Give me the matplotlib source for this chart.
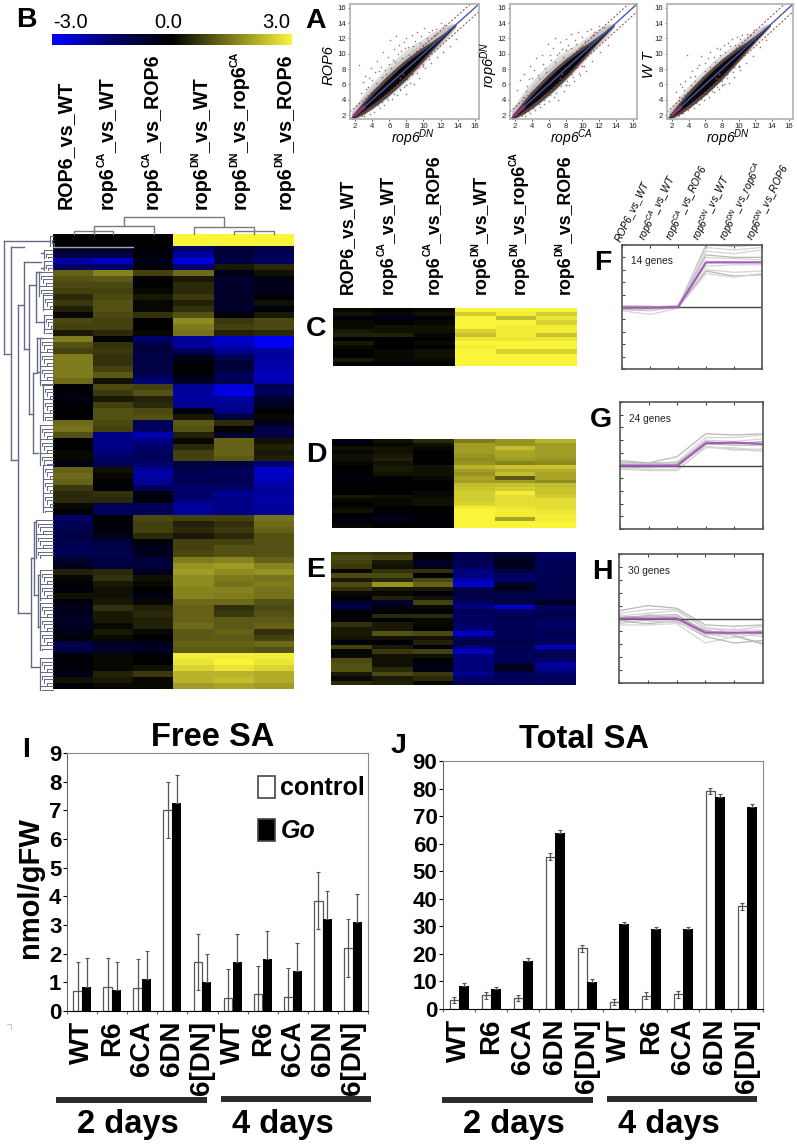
import numpy as np
import matplotlib
matplotlib.use('Agg')
from matplotlib import pyplot as plt
from matplotlib.colors import LinearSegmentedColormap
from matplotlib.patches import Rectangle

W, H = 797, 1147
plt.rcParams['font.family'] = ['Liberation Sans', 'DejaVu Sans']
plt.rcParams['mathtext.fontset'] = 'custom'
plt.rcParams['mathtext.rm'] = 'Liberation Sans'
plt.rcParams['mathtext.bf'] = 'Liberation Sans:bold'
plt.rcParams['mathtext.it'] = 'Liberation Sans:italic'

# ---- heatmap values (log2 ratio, -3..3), one row per line
b_rows = [
 [0,0,0,3,3,3],[0,0,0,3,3,3],[-.6,-.6,-.1,-1.6,-.8,-1.1],[-1,-1,-.2,-2,-.8,-1.2],[-2.1,-2.4,-.3,-2.7,-1,-1.4],
 [-1.4,-1.5,-.1,-1.6,.3,.5],[1.2,1.6,.8,1.3,-.3,.2],[1,1.1,0,.3,-.6,-.3],[.9,.9,0,.5,-.6,-.4],[.8,.8,.1,.5,-.6,-.4],
 [.5,.9,.3,.7,-.6,-.1],[.7,1,.1,.4,-.6,.2],[.4,1,.1,.6,-.6,-.2],[.1,.9,.6,1,-.2,.3],[.9,.8,0,1.7,.7,.9],
 [.8,.8,0,1.5,.8,.9],[.3,.5,.1,1.4,.4,.5],[1.5,0,-1.5,-2,-2.4,-2.9],[1,.6,-1,-2,-2.3,-2.8],[.8,.7,-.9,-1.3,-1.9,-2],
 [1.5,.6,-1,-.4,-1.2,-2],[1.5,.6,-1,-.1,-.8,-2.1],[1.5,.8,-.9,0,-.8,-2.2],[1.5,1.1,-1.1,-.2,-1.4,-2.3],[1.3,.2,-1.6,-.5,-1.1,-2.2],
 [0,.9,.8,-1.9,-2.6,-1.2],[-.1,.7,1,-2,-2.7,-1.3],[-.3,.3,.4,-2,-2,-.7],[0,.8,.5,-1.9,-1.9,-.5],[0,1,.9,-.3,-1.8,0],
 [0,1,1,.3,-.8,.1],[1.3,.9,-1.2,1.1,.5,-.4],[1.4,.8,-1.4,1,0,-1],[1,-1.8,-2.2,.4,-.6,-1],[0,-1.8,-1.8,.1,1.2,.2],
 [0,-1.8,-1.5,.5,1.2,.4],[.1,-1.6,-1.4,.8,1.2,.3],[.1,-1.4,-1.2,.8,1.1,.4],[-.3,-1.2,-1.5,-.9,-.9,-1.6],[1.2,.2,-2,-1.1,-1.2,-2.4],
 [1.3,.1,-2.1,-1.2,-1.2,-2.4],[1.2,0,-1.9,-1.2,-1.2,-2.2],[.7,-.1,-1.3,-1.5,-1.5,-2],[.5,.6,-.2,-1.5,-1.9,-2],[.5,.5,-.2,-1.6,-1.8,-2.1],
 [.1,-1.2,-1.2,-2,-1.8,-2],[0,-1.4,-1.3,-2,-1.8,-2],[-1.5,0,.9,.8,.8,1.4],[-1.2,-.1,.8,.4,.6,1.3],[-1.1,-.2,.8,.5,.7,1.2],
 [-1,-.3,.5,.3,.5,1],[-1.1,-.9,-.1,.8,.8,1],[-1.2,-1,-.4,.8,1,1],[-1.2,-1.1,-.4,.9,1,1],[-.6,-1,-.9,1.5,1.6,1.2],
 [-.4,-.9,-.9,1.8,1.9,1.6],[.4,.5,-.4,1.9,1.7,1.8],[.1,.6,.2,1.7,1.5,1.4],[-.1,.3,.1,1.7,1.4,1.5],[-.1,.2,0,1.6,1.6,1.4],
 [.2,.2,-.3,1.6,1.5,1.4],[-.2,.3,.1,1.3,1.3,1],[-.4,.6,.4,1.2,.6,.9],[-.4,.3,.5,1.2,.7,1],[-.5,.3,.4,1.2,1.1,1.1],
 [-.5,.1,.4,1.3,1.1,1.2],[-.3,.3,.1,1.1,1.2,.6],[-.2,.1,0,1.1,1.1,.8],[-1,-.5,-.4,1.2,1.2,1.3],[-1,-.7,-.5,1.1,1.1,1],
 [0,.1,0,2.9,2.9,2.9],[-.2,.1,0,2.8,3,2.8],[-.2,.1,.2,2.6,2.8,2.6],[-.3,.4,.7,2.2,2.2,2.1],[.2,.3,.1,2.2,2.3,2.1],
 [-.1,.1,.1,1.9,2,1.9]]

c_rows = [[.1,0,.1,3,3,3],[.2,.1,.2,2.5,2.9,2.5],[-.2,-.4,-.1,3,2.3,2.8],[.1,0,.1,3,3,2.6],[.1,.2,.2,3,2.9,2.9],
 [.3,.2,.2,2.6,2.9,2.9],[.4,.4,.1,2.4,2.9,2.4],[0,0,0,2.8,2.8,2.8],[.3,0,.1,3,3,3],[.1,0,-.1,2.9,3,3],
 [0,.1,.2,3,2.6,2.6],[0,.1,.2,3,3,3],[.3,.1,.1,3,3,3],[0,-.1,0,3,3,3]]

d_rows = [[-.3,.2,.5,1.5,1.8,2.2],[-.2,.1,.2,1.9,1.8,1.9],[.2,.2,.1,1.9,2.3,1.9],[.1,.2,0,1.9,2,1.9],[.2,.3,0,1.8,2,1.9],
 [.2,.4,0,1.7,1.9,1.8],[.1,.2,0,1.8,1.6,1.7],[0,.3,.2,2.2,2.4,2.4],[0,.3,.2,1.9,2.1,2.1],[0,.2,.2,1.8,2.3,2],
 [-.2,-.1,.1,2,1.1,2],[-.2,-.1,0,1.9,1.9,1.7],[0,0,0,2.3,2.4,2.3],[0,0,0,2.4,2.5,2.4],[0,0,.1,2.5,2.9,2.4],
 [.3,.2,.1,2.5,2.7,2.5],[.1,.1,.2,2.5,2.7,2.7],[0,.1,.2,2.6,2.7,2.7],[.1,0,0,2.9,2.8,2.7],[.2,0,0,3,2.9,2.8],
 [0,-.2,-.1,3,2.9,2.9],[-.3,-.4,-.1,3,2,2.9],[-.2,-.2,-.1,3,3,3],[.1,0,0,3,3,3]]

e_rows = [[.7,.6,-.2,-1.1,-1,-1.5],[.9,.8,-.2,-1.2,-.5,-1.3],[.8,.3,-.5,-1.2,-.4,-1.2],[.7,.2,-.4,-1.2,-.4,-1.2],[.1,.6,.6,-1.8,-1,-1.2],
 [.9,.9,0,-1.7,-1.4,-1.2],[.3,.5,.9,-2.2,-1.5,-1.1],[.9,1.8,1.2,-2.5,-.5,-1.2],[.6,.3,.3,-1,-.4,-1.1],[.1,.1,-.2,-1,-1,-1.1],
 [-.1,.4,.2,-1.1,-1,-1],[-.6,-.6,.8,-1.4,-.9,-.5],[-1,-.3,.1,-1.8,-2.5,-1.4],[-.2,0,0,-1.2,-1.4,-1.2],[-.1,.5,.5,-1.5,-1.2,-1.1],
 [0,0,.1,-1.3,-1.1,-1.2],[.6,.3,.1,-1.5,-1.2,-1.5],[.3,.3,0,-1.6,-1.2,-1.3],[.3,1,.9,-2.4,-1.2,-1.2],[.2,.2,.2,-1.4,-1.2,-1.3],
 [-.1,-.1,.4,-1,-1,-1.2],[.8,.3,-.2,-1.6,-1.2,-2.4],[.1,.7,.8,-2.4,-1.3,-1.3],[.1,.2,.2,-1.6,-1.2,-1.1],[.9,.2,-.1,-1.7,-1.3,-1.5],
 [1,.2,-.3,-1.6,-.5,-2.2],[1,.5,-.3,-1.7,-.5,-1.8],[.3,.9,.7,-1.9,-1.3,-1.5],[.1,.3,.5,-1.5,-1.3,-1.3],[.5,.4,.1,-1.2,-1.2,-1.3]]

# ---- cluster profiles
profile_x = [0, 1, 2, 3, 4, 5]
f_mean = [-.05, -.05, 0, 3.6, 3.6, 3.6]
f_lines = [[-.2,-.3,0,5,4.9,5],[0,-.3,.1,4.8,4.6,4.8],[-.3,-.6,-.1,4.5,4.3,4.6],[.1,0,.1,4.2,4,4],
           [-.1,-.2,.1,3.3,3.4,3.4],[0,0,0,3,2.8,2.9],[-.2,-.1,0,2.9,2.5,2.6],[.1,.1,-.1,2.7,2.4,2.7],[-.1,-.1,.1,4,3.9,3.8]]
g_mean = [0, 0, 0, 1.75, 1.8, 1.7]
g_lines = [[.4,.2,.7,2.5,2.4,2.5],[.3,.1,.3,2.2,2.2,2.4],[.1,0,.1,2,1.9,2.1],[0,-.1,-.1,1.7,1.6,1.6],
           [-.2,-.3,-.3,1.4,1.4,1.2],[-.1,-.2,.1,1.5,1.3,1.1],[.2,.2,.2,1.9,1.7,1.9],[-.3,-.4,-.4,1.5,1.2,1.3]]
h_mean = [0, 0, 0, -1.1, -1.1, -1.1]
h_lines = [[.6,1,.8,-.5,-.6,-.5],[.4,.7,.7,-.7,-.9,-.6],[.2,.4,.6,-.8,-.9,-.9],[-.1,.2,.3,-1,-1.1,-1],[-.4,-.1,0,-1.3,-1.2,-1.4],
           [-.5,-.5,-.4,-1.9,-1.4,-1.9],[-.2,-.4,-.2,-1.4,-1.9,-1.7],[.3,-.2,-.3,-1.2,-1.5,-1.1],[-.3,.3,.2,-1.1,-.8,-1.3],[.1,.2,.1,-.9,-1.3,-2]]

# ---- SA bars
groups = ['WT', 'R6', '6CA', '6DN', '6[DN]', 'WT', 'R6', '6CA', '6DN', '6[DN]']
free_ctrl = [.7, .85, .8, 7, 1.7, .45, .6, .5, 3.85, 2.2]
free_go = [.85, .75, 1.1, 7.25, 1, 1.7, 1.8, 1.4, 3.2, 3.1]
free_ctrl_err = [1, 1, 1, .98, .97, 1, .97, 1, 1, 1]
free_go_err = [1, .97, 1, 1, 1, 1, 1, .97, .97, .97]
total_ctrl = [3.3, 5, 4, 55.3, 22, 2.6, 4.8, 5.3, 79.2, 37.2]
total_go = [8.3, 7.1, 17.5, 64, 9.8, 31, 29, 29, 77, 73.3]
total_ctrl_err = [1.2, 1.3, 1.2, 1.2, 1.3, 1.2, 1.3, 1.3, 1.1, 1.2]
total_go_err = [1.1, 1, 1, .8, 1.1, .7, .6, .6, 1.1, 1]

# ---- scatter: hand read outlying points, the dense part is drawn as bands
band_x = [1.6, 3, 4, 5, 6, 7, 8, 9, 10, 11, 12, 13, 13.8]
a1_lo = [1.5, 2, 2.7, 3.5, 4.4, 5.3, 6.3, 7.4, 8.6, 9.8, 11, 12.3, 13.4]
a1_hi = [2.6, 4.8, 6.2, 7.4, 8.6, 9.6, 10.6, 11.3, 12, 12.8, 13.4, 13.9, 14]
a2_lo = [1.5, 2, 2.7, 3.5, 4.4, 5.3, 6.4, 7.5, 8.7, 9.9, 11.1, 12.3, 13.4]
a2_hi = [2.8, 5, 6.4, 7.6, 8.6, 9.6, 10.4, 11, 11.8, 12.6, 13.3, 13.9, 14]
a3_lo = [1.5, 2.1, 2.9, 3.8, 4.7, 5.6, 6.5, 7.6, 8.9, 10, 11.3, 12.5, 13.5]
a3_hi = [2.6, 4.6, 5.9, 7, 8.1, 9.1, 10, 10.8, 11.6, 12.4, 13.1, 13.8, 14]
core_half = [.15, .4, .6, .75, .85, .9, .85, .7, .5, .3, .18, .08, .04]
mid_half = [.3, .85, 1.15, 1.3, 1.4, 1.4, 1.35, 1.15, .95, .65, .42, .25, .1]

a1_px = [2.4,2.9,3.2,3.5,3.9,4.3,4.6,5,5.3,5.5,5.9,6.1,6.4,6.6,6.8,7.1,7.4,7.7,8,8.2,8.6,9,9.3,9.7,10.1,10.6,11,11.5,12,12.4,3,3.7,4.2,4.9,5.4,5.8,6.3,6.9,7.3,7.9,8.4,8.9,9.5,10.2,10.9,11.6,12.3,13.1,13.8,
         2.7,3.3,3.6,4,4.4,4.8,5.1,5.6,6,6.2,6.7,7,7.5,7.8,8.3,8.8,9.1,9.6,10,10.4,3.4,4,4.7,5.2,5.7,6.5,7.2,7.7,8.1,8.7,9.2,10,10.7]
a1_py = [8.5,6.3,7.1,5.6,8.1,7.6,9.1,8.3,10.2,7.9,9.6,11.8,9.2,10.6,12.3,11.2,10.4,11.5,12.1,10.9,12.5,11.7,12.9,12.3,13.4,12.9,13.1,13.2,14,13.7,1.9,2.1,2.4,2.9,3.3,3.9,4.1,4.6,5.3,4.8,6.2,6.1,6.9,8.2,8.8,9.6,10.2,11,11.9,
         4.9,5.4,6.8,6.6,6.2,7.7,7,7.3,8.7,8.2,8.9,10,9.4,10.7,9.8,11,10.3,11.4,11.2,12.1,2.5,2.9,3.3,3.7,4.2,4.7,5.4,5.7,6.7,7.3,7.5,8.6,9.3]
a2_px = [2.2,2.6,3.1,3.4,3.8,4.2,4.5,4.9,5.2,5.6,5.9,6.2,6.5,6.8,7,7.3,7.6,8,8.3,8.7,9.1,9.5,10,10.5,11,11.4,12,12.6,3.2,3.8,4.4,5,5.5,6,6.6,7.1,7.8,8.4,9,9.7,10.4,11.2,12.1,13,
         2.9,3.3,3.6,4,4.7,5.3,5.7,6.3,6.7,7.2,7.7,8.1,8.6,9.3,9.8,10.3,3.5,4.1,4.8,5.4,6.1,6.9,7.5,8.2,8.9,9.6,10.2]
a2_py = [5.3,6.6,7.4,5.8,8.4,7.9,9.4,6.8,9.9,8.2,11.3,9.8,10.8,12.1,9.9,11.5,10.6,11.9,11.1,12.6,11.8,12.9,12.2,13,13.2,12.9,13.6,13.5,1.9,2.2,2.7,3,3.5,3.8,4.3,3.9,5.2,5.9,6.4,7.2,7.8,9,10.2,11.2,
         4.4,5.1,6.7,6.9,7.2,8.6,7.6,9.2,8.9,10.1,9.6,10.5,10.7,11.3,10.9,11.7,2.5,2.9,3.4,3.9,4.6,4.9,5.8,6.4,7,7.5,8.4]
a3_px = [2.5,3,3.4,3.8,4.1,4.4,4.8,5.2,5.5,5.9,6.3,6.6,7,7.4,7.8,8.2,8.7,9.2,9.8,10.4,11,11.8,3.3,3.9,4.6,5.2,5.8,6.4,7,7.6,8.2,8.8,9.4,10.1,10.9,11.7,12.6,13.3,
         2.8,3.2,3.6,4.3,4.7,5,5.6,6,6.5,7.2,7.7,8.4,9,9.6,10.2,3.5,4.2,4.9,5.5,6.2,6.8,7.4,8,8.6,9.3,10]
a3_py = [5,6.1,5.3,9.8,7,7.8,6.4,8.5,9.7,7.7,9.4,10.2,9.6,10.8,10.6,11.2,11.4,11.9,12.2,12.5,12.6,13.1,2.3,2.6,2.9,3.4,3.9,4.4,5,5.4,6.1,6.2,7,7.9,8.8,9.7,10.9,11.8,
         4.4,5.6,6.5,5.9,7.1,8.1,7,8.8,8.3,8.9,9.9,10.2,11,11.1,11.9,2.7,3.1,3.6,4.1,4.8,5.2,5.7,6.5,6.9,7.6,8.3]
red_x = [2, 2.2, 2.4, 2.6, 2.8, 3, 7.3, 7.6, 9.4, 10, 11.3, 11.8, 12.4, 13, 8, 8.6]
red_y = [2, 2.2, 2.4, 2.6, 2.8, 3, 6.9, 7.4, 8.3, 8.4, 12.5, 11.9, 12.6, 13.2, 5.9, 7.4]

# ---- dendrograms of panel B, pixel outline: (x, top, bottom)
tree_trunks = [(4,241,354),(11,247,460),(18,305,613),(24,262,349),(29,285,414),(36,272,322),(33,373,453),
               (31,558,667),(34,522,595),(38,575,627),(37,338,372)]
tree_links = [(4,50,241),(4,11,354),(11,24,247),(11,18,460),(18,24,305),(18,31,613),(24,41,262),(24,29,349),
              (29,36,285),(29,33,414),(36,41,272),(36,44,322),(33,37,373),(33,38,453),(31,34,558),(31,40,667),
              (34,36,522),(34,38,595),(38,40,575),(38,40,627),(37,43,338),(37,40,372),(41,44,253),(41,44,268)]
tree_fans = [(50,236,246),(44,250,258),(44,261,270),(39,272,296),(43,295,310),(44,315,333),(40,338,385),(43,385,420),
             (40,425,465),(43,465,512),(36,520,558),(40,570,600),(40,603,650),(40,658,690)]
top_joins = [(74, 113, 231, 234), (94, 154, 226, 234), (124, 224, 217, 226), (194, 254, 227, 234), (234, 274, 231, 234)]

col_parts = [[('ROP6_vs_WT', 0)], [('rop6', 0), ('CA', 1), ('_vs_WT', 0)], [('rop6', 0), ('CA', 1), ('_vs_ROP6', 0)],
             [('rop6', 0), ('DN', 1), ('_vs_WT', 0)], [('rop6', 0), ('DN', 1), ('_vs_rop6', 0), ('CA', 1)],
             [('rop6', 0), ('DN', 1), ('_vs_ROP6', 0)]]


def px_axes(x0, y0, x1, y1):
    return fig.add_axes([x0 / W, 1 - y1 / H, (x1 - x0) / W, (y1 - y0) / H])


def heat(rows, x0, y0, x1, y1):
    ax = px_axes(x0, y0, x1, y1)
    ax.imshow(np.array(rows), cmap=byc, vmin=-3, vmax=3, aspect='auto', interpolation='nearest')
    ax.axis('off')
    return ax


def vlabel(xb, yb, parts, size):
    # rotated label built piece by piece so the superscripts stay small
    y = yb
    for txt, sup in parts:
        t = ov.text(xb - (size * .62 if sup else 0), y, txt, fontsize=size * .54 if sup else size, fontweight='bold',
                    rotation=90, rotation_mode='anchor', ha='left', va='baseline')
        y -= t.get_window_extent(rend).height - 1


def profile(x0, y0, x1, y1, lines, mean, txt):
    ax = px_axes(x0, y0, x1, y1)
    for i, l in enumerate(lines):
        ax.plot(profile_x, l, color='#d4d4d4' if i % 3 else '#b8b8b8', lw=.9)
    ax.axhline(0, color='#444444', lw=1)
    ax.plot(profile_x, mean, color='#a45cb8', lw=1.6)
    ax.set_xlim(0, 5)
    ax.set_ylim(-5, 5)
    ax.set_xticks(profile_x)
    ax.set_yticks(range(-5, 6))
    ax.tick_params(direction='in', length=2.5, width=.8, top=True, color='#444444', labelbottom=False, labelleft=False)
    for s in ax.spines.values():
        s.set_color('#555555')
        s.set_linewidth(1.2)
    ax.text(.065, .87, txt, transform=ax.transAxes, fontsize=7.3, va='center', color='#222222')
    return ax


def scatter_panel(x0, x1, px, py, lo, hi, xlab, ylab, ylab_x):
    ax = px_axes(x0, 4, x1, 119)
    bx = np.array(band_x)
    lo = np.array(lo)
    hi = np.array(hi)
    for frac in (1, .75):
        ax.fill_between(bx, bx + (lo - bx) * frac, bx + (hi - bx) * frac, color='#777777', alpha=.25, lw=0)
    ax.fill_between(bx, bx - np.array(mid_half), bx + np.array(mid_half), color='#2a2a2a', alpha=.8, lw=0)
    ax.fill_between(bx, bx - np.array(core_half), bx + np.array(core_half), color='#0a0a0a', lw=0)
    ax.scatter(px, py, s=1.3, color='#555555', alpha=.75, lw=0)
    ax.scatter(red_x, red_y, s=2, color='#b04040', lw=0, alpha=.8)
    ax.plot([2, 3], [2, 3], color='#b01c2c', lw=2.4)
    d = [1.4, 16.5]
    ax.plot(d, d, color='#4a55b0', lw=1)
    ax.plot(d, [d[0] + 1, d[1] + 1], color='#b03030', lw=.7, ls=(0, (2, 2)))
    ax.plot(d, [d[0] - 1, d[1] - 1], color='#b03030', lw=.7, ls=(0, (2, 2)))
    ax.set_xlim(1.4, 16.5)
    ax.set_ylim(1.48, 16.5)
    ax.set_xticks(range(2, 17, 2))
    ax.set_yticks(range(2, 17, 2))
    ax.tick_params(labelsize=5.6, length=1.5, width=.5, pad=1.2, colors='#222222')
    for s in ax.spines.values():
        s.set_color('#b0b0b0')
        s.set_linewidth(1.2)
    ov.text((x0 + x1) / 2 - 2, 138, xlab, fontsize=10, style='italic', ha='center', va='center')
    ov.text(ylab_x, 65, ylab, fontsize=10.5, style='italic', rotation=90, ha='center', va='center')


def sa_bars(x0, y0, x1, y1, ctrl, go, ctrl_err, go_err, ymax, step):
    ax = px_axes(x0, y0, x1, y1)
    pos = np.arange(len(groups))
    err_kw = dict(ecolor='#555555', elinewidth=.9, capsize=1.4, capthick=.8)
    ax.bar(pos - .15, ctrl, .29, color='white', edgecolor='#555555', linewidth=.9, yerr=ctrl_err, error_kw=err_kw)
    ax.bar(pos + .15, go, .3, color='black', yerr=[[0] * len(go), go_err], error_kw=err_kw)
    ax.set_xlim(-.5, 9.5)
    ax.set_ylim(0, ymax)
    ax.set_yticks(np.arange(0, ymax + 1, step))
    ax.set_xticks(pos)
    ax.set_xticklabels(groups, rotation=90, fontsize=20, fontweight='bold')
    ax.set_xticks(np.arange(-.5, 10, 1), minor=True)
    ax.tick_params(axis='x', which='major', length=0, pad=7)
    ax.tick_params(axis='x', which='minor', length=2.5, width=.8, color='#666666')
    ax.tick_params(axis='y', length=3, width=.8, pad=1)
    for lab in ax.get_yticklabels():
        lab.set_fontsize(16)
        lab.set_fontweight('bold')
    ax.spines['top'].set_color('#888888')
    ax.spines['right'].set_color('#888888')
    ax.spines['left'].set_color('#666666')
    return ax


byc = LinearSegmentedColormap.from_list('byc', [(0, '#0000ff'), (.25, '#000069'), (.5, '#000000'), (1, '#fbf53a')])
fig = plt.figure(figsize=(W / 100, H / 100), dpi=100)
rend = fig.canvas.get_renderer()

# overlay in pixel coordinates for the labels
ov = fig.add_axes([0, 0, 1, 1], zorder=5)
ov.set_xlim(0, W)
ov.set_ylim(H, 0)
ov.axis('off')
ov.patch.set_alpha(0)

# panel B
cbar = px_axes(52, 34, 292, 45)
cbar.imshow(np.linspace(-3, 3, 256).reshape(1, -1), cmap=byc, aspect='auto', vmin=-3, vmax=3)
cbar.axis('off')
for t, xp in zip(['-3.0', '0.0', '3.0'], [53, 154, 262]):
    ov.text(xp, 32, t, fontsize=14.5, va='bottom', ha='left')
heat(b_rows, 53, 234, 294, 689)
ov.plot([53, 133], [247, 247], color='#a5a58c', lw=1)

for parts, xb in zip(col_parts, [71, 113, 158, 207, 246, 291]):
    vlabel(xb, 209, parts, 14.2)
for parts, xb in zip(col_parts, [352, 393, 439, 486, 525, 570]):
    vlabel(xb, 294, parts, 12.8)

tree_c = '#656a85'
for x, a, b in tree_trunks:
    ov.plot([x, x], [a, b], color=tree_c, lw=1)
for a, b, y in tree_links:
    ov.plot([a, b], [y, y], color=tree_c, lw=1)
for x, a, b in tree_fans:
    ov.plot([x, x], [a, b], color=tree_c, lw=.9)
    for k, y in enumerate(np.arange(a, b + .1, 3.5)):
        xs = x + (k % 4) * 2.2
        ov.plot([xs, 53], [y, y], color=tree_c, lw=.7)
        ov.plot([xs, xs], [y, min(y + 3.5, b)], color=tree_c, lw=.7)
# top dendrogram: pairs of leaves joined at a height
for a, b, y, low in top_joins:
    ov.plot([a, a, b, b], [low, y, y, low], color='#7a7a7a', lw=1)

# panels C D E
heat(c_rows, 333, 308, 577, 366)
heat(d_rows, 332, 439, 576, 528)
heat(e_rows, 331, 552, 575, 685)

# panels F G H
profile(622, 245, 762, 369, f_lines, f_mean, '14 genes')
profile(620, 402, 763, 529, g_lines, g_mean, '24 genes')
profile(619, 554, 763, 683, h_lines, h_mean, '30 genes')
small_cols = ['ROP6_vs_WT', r'rop6$^{\mathit{CA}}$_vs_WT', r'rop6$^{\mathit{CA}}$_vs_ROP6',
              r'rop6$^{\mathit{DN}}$_vs_WT', r'rop6$^{\mathit{DN}}$_vs_rop6$^{\mathit{CA}}$', r'rop6$^{\mathit{DN}}$_vs_ROP6']
for t, xp in zip(small_cols, [622, 649, 676, 703, 730, 757]):
    ov.text(xp, 243, t, fontsize=7.4, style='italic', rotation=64, rotation_mode='anchor', ha='left', va='bottom')

# panel A
scatter_panel(350, 479, a1_px, a1_py, a1_lo, a1_hi, r'rop6$^{\mathit{DN}}$', 'ROP6', 329)
scatter_panel(510, 637, a2_px, a2_py, a2_lo, a2_hi, r'rop6$^{\mathit{CA}}$', r'rop6$^{\mathit{DN}}$', 489)
scatter_panel(667, 793, a3_px, a3_py, a3_lo, a3_hi, r'rop6$^{\mathit{DN}}$', 'W T', 649)

# panels I J
ax_i = sa_bars(67, 753, 368, 1011, free_ctrl, free_go, free_ctrl_err, free_go_err, 9, 1)
ax_j = sa_bars(443, 761, 763, 1009, total_ctrl, total_go, total_ctrl_err, total_go_err, 90, 10)
h1 = Rectangle((0, 0), 1, 1, facecolor='white', edgecolor='#444444', linewidth=1.2)
h2 = Rectangle((0, 0), 1, 1, facecolor='black', edgecolor='#444444', linewidth=1.2)
leg = ax_i.legend([h1, h2], ['control', 'Go'], loc='upper left', bbox_to_anchor=(.634, .911), frameon=False,
                  handlelength=.7, handleheight=.95, handletextpad=.2, labelspacing=.75, borderaxespad=0, borderpad=0,
                  prop={'weight': 'bold', 'size': 18})
leg.get_texts()[1].set_fontstyle('italic')

ov.text(213, 737, 'Free SA', fontsize=23.5, fontweight='bold', ha='center', va='center')
ov.text(584, 740, 'Total SA', fontsize=23.5, fontweight='bold', ha='center', va='center')
ov.text(30, 888, 'nmol/gFW', fontsize=21, fontweight='bold', rotation=90, ha='center', va='center')
for x0, x1, y in [(56, 207, 1100), (221, 371, 1099), (442, 593, 1100), (607, 757, 1099)]:
    ov.plot([x0, x1], [y, y], color='#2b2b2b', lw=4.3, solid_capstyle='butt')
for t, xp, yp in [('2 days', 128, 1125), ('4 days', 283, 1124), ('2 days', 514, 1125), ('4 days', 669, 1124)]:
    ov.text(xp, yp, t, fontsize=23.5, fontweight='bold', ha='center', va='center')
ov.plot([7, 11, 11], [1024, 1024, 1029], color='#c4c4c4', lw=.7)

# panel letters
letters = {'B': (16, 27), 'A': (305, 28), 'C': (306, 336), 'D': (306, 462), 'E': (306, 577), 'F': (594, 270),
           'G': (590, 427), 'H': (592, 579), 'I': (22, 757), 'J': (391, 753)}
for k, (xp, yp) in letters.items():
    ov.text(xp, yp, k, fontsize=20.5, fontweight='bold', ha='left', va='baseline')

fig.savefig('out.png', dpi=100)
